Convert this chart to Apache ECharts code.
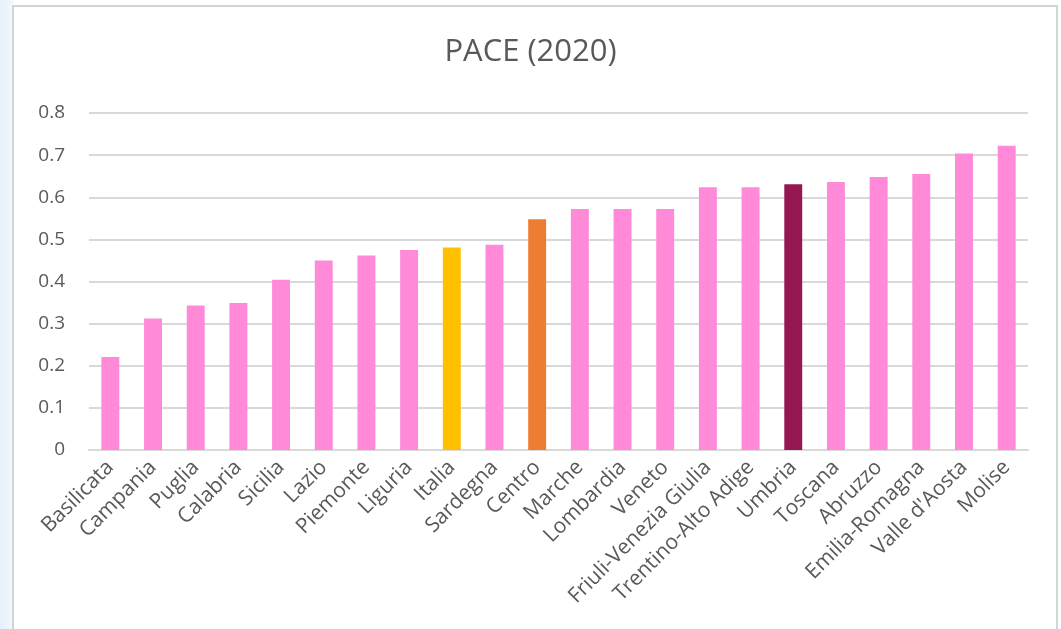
<!DOCTYPE html>
<html>
<head>
<meta charset="utf-8">
<script src="https://cdn.jsdelivr.net/npm/echarts@6/dist/echarts.min.js"></script>
<style>
  html, body { margin: 0; padding: 0; width: 1061px; height: 629px; overflow: hidden;
    background: linear-gradient(90deg, #e6f1fa 0px, #f2f8fd 13px, #ffffff 14px); }
  #frame { position: absolute; left: 12px; top: 5px; width: 1046px; height: 640px;
    border: 2px solid #d4d4d4; background: #ffffff; box-sizing: border-box; }
  #chart { position: absolute; left: 0; top: 0; width: 1061px; height: 629px; }
</style>
</head>
<body>
<div id="frame"></div>
<div id="chart"></div>
<script>
const titleText = 'PACE (2020)';
const categories = ['Basilicata','Campania','Puglia','Calabria','Sicilia','Lazio','Piemonte','Liguria','Italia','Sardegna','Centro','Marche','Lombardia','Veneto','Friuli-Venezia Giulia','Trentino-Alto Adige','Umbria','Toscana','Abruzzo','Emilia-Romagna',"Valle d'Aosta",'Molise'];
const values = [0.221,0.312,0.343,0.349,0.404,0.45,0.462,0.475,0.481,0.487,0.548,0.572,0.572,0.572,0.624,0.624,0.631,0.636,0.648,0.655,0.704,0.722];
const highlightColors = { 'Italia': '#FFC000', 'Centro': '#ED7D31', 'Umbria': '#951751' };
const defaultColor = '#FF8AD8';
const yTicks = [0, 0.1, 0.2, 0.3, 0.4, 0.5, 0.6, 0.7, 0.8];

const chart = echarts.init(document.getElementById('chart'), null, { renderer: 'canvas' });
const fontFamily = '"Open Sans", "Liberation Sans", sans-serif';
chart.setOption({
  backgroundColor: 'transparent',
  animation: false,
  title: {
    text: titleText, left: 'center', top: 32,
    textStyle: { fontFamily, fontSize: 31, fontWeight: 'normal', color: '#595959' }
  },
  grid: { left: 89, right: 33, top: 113, bottom: 179, containLabel: false },
  xAxis: {
    type: 'category', data: categories,
    axisLine: { lineStyle: { color: '#d9d9d9', width: 2 } },
    axisTick: { show: false },
    axisLabel: { interval: 0, rotate: 45, color: '#595959', fontFamily, fontSize: 21, margin: 14 }
  },
  yAxis: {
    type: 'value', min: yTicks[0], max: yTicks[yTicks.length - 1], interval: 0.1,
    axisLine: { show: false }, axisTick: { show: false },
    splitLine: { lineStyle: { color: '#d9d9d9', width: 2 } },
    axisLabel: { color: '#595959', fontFamily, fontSize: 19, margin: 24,
      formatter: v => v === 0 ? '0' : v.toFixed(1) }
  },
  series: [{
    type: 'bar',
    barWidth: '42%',
    data: categories.map((c, i) => ({
      value: values[i],
      itemStyle: { color: highlightColors[c] || defaultColor }
    }))
  }]
});
</script>
</body>
</html>
